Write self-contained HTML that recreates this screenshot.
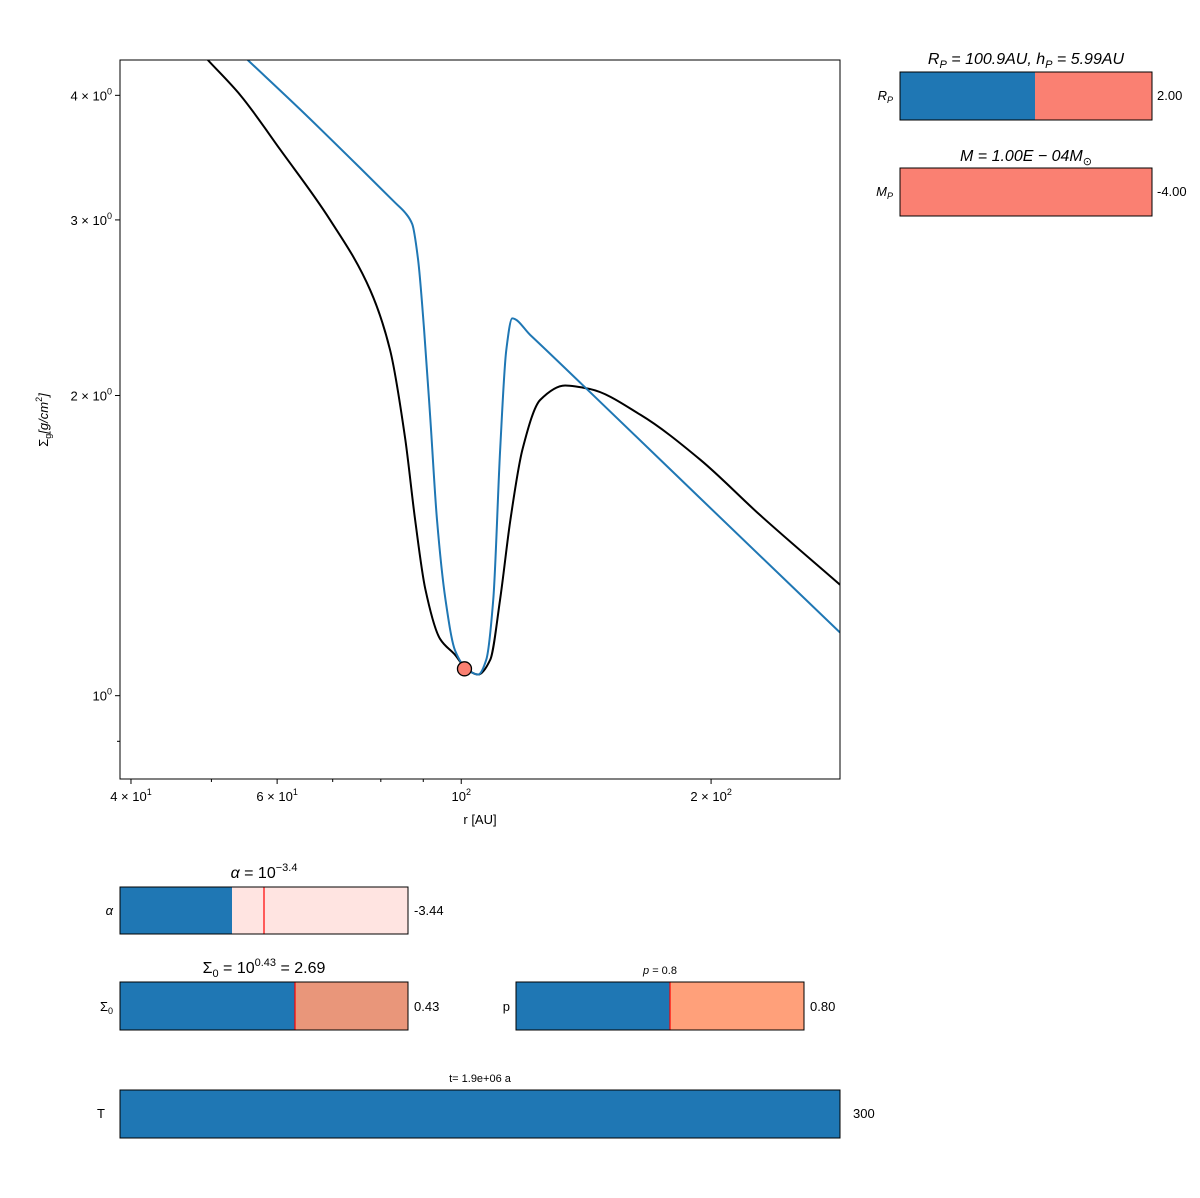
<!DOCTYPE html>
<html><head><meta charset="utf-8">
<style>
body{margin:0;background:#fff;}
svg{display:block;font-family:"Liberation Sans","DejaVu Sans",sans-serif;}
</style></head>
<body>
<svg id="s" width="1200" height="1198" viewBox="0 0 1200 1198" xmlns="http://www.w3.org/2000/svg">
<g id="plot"></g>

<g>
<text x="1026" y="64" font-size="16" text-anchor="middle" font-style="italic">R<tspan font-size="11" dy="4">P</tspan><tspan dy="-4"> = 100.9AU, h</tspan><tspan font-size="11" dy="4">P</tspan><tspan dy="-4"> = 5.99AU</tspan></text>
<rect x="900" y="72" width="252" height="48" fill="#fa8072"/>
<rect x="900" y="72" width="135" height="48" fill="#1f77b4"/>
<rect x="900" y="72" width="252" height="48" fill="none" stroke="#000"/>
<text x="893" y="100" font-size="13" text-anchor="end" font-style="italic">R<tspan font-size="9" dy="3">P</tspan></text>
<text x="1157" y="100" font-size="13">2.00</text>
</g>
<g>
<text x="1026" y="161" font-size="16" text-anchor="middle" font-style="italic">M = 1.00E − 04M<tspan font-size="11" dy="4">⊙</tspan></text>
<rect x="900" y="168" width="252" height="48" fill="#fa8072" stroke="#000"/>
<text x="893" y="196" font-size="13" text-anchor="end" font-style="italic">M<tspan font-size="9" dy="3">P</tspan></text>
<text x="1157" y="196" font-size="13">-4.00</text>
</g>
<g>
<text x="264" y="878" font-size="16" text-anchor="middle"><tspan font-style="italic">α</tspan> = 10<tspan font-size="11" dy="-7">−3.4</tspan></text>
<rect x="120" y="887" width="288" height="47" fill="#ffe4e1"/>
<rect x="120" y="887" width="112" height="47" fill="#1f77b4"/>
<line x1="264" y1="887" x2="264" y2="934" stroke="#ff0000" stroke-width="1.2"/>
<rect x="120" y="887" width="288" height="47" fill="none" stroke="#000"/>
<text x="113" y="915" font-size="13" text-anchor="end" font-style="italic">α</text>
<text x="414" y="915" font-size="13">-3.44</text>
</g>
<g>
<text x="264" y="973" font-size="16" text-anchor="middle">Σ<tspan font-size="11" dy="4">0</tspan><tspan dy="-4"> = 10</tspan><tspan font-size="11" dy="-7">0.43</tspan><tspan dy="7"> = 2.69</tspan></text>
<rect x="120" y="982" width="288" height="48" fill="#e9967a"/>
<rect x="120" y="982" width="175" height="48" fill="#1f77b4"/>
<line x1="295" y1="982" x2="295" y2="1030" stroke="#ff0000" stroke-width="1.2"/>
<rect x="120" y="982" width="288" height="48" fill="none" stroke="#000"/>
<text x="113" y="1011" font-size="13" text-anchor="end">Σ<tspan font-size="9" dy="3">0</tspan></text>
<text x="414" y="1011" font-size="13">0.43</text>
</g>
<g>
<text x="660" y="974" font-size="11" text-anchor="middle"><tspan font-style="italic">p</tspan> = 0.8</text>
<rect x="516" y="982" width="288" height="48" fill="#ffa07a"/>
<rect x="516" y="982" width="154" height="48" fill="#1f77b4"/>
<line x1="670" y1="982" x2="670" y2="1030" stroke="#ff0000" stroke-width="1.2"/>
<rect x="516" y="982" width="288" height="48" fill="none" stroke="#000"/>
<text x="510" y="1011" font-size="13" text-anchor="end">p</text>
<text x="810" y="1011" font-size="13">0.80</text>
</g>
<g>
<text x="480" y="1082" font-size="11" text-anchor="middle">t= 1.9e+06 a</text>
<rect x="120" y="1090" width="720" height="48" fill="#1f77b4" stroke="#000"/>
<text x="105" y="1118" font-size="13" text-anchor="end">T</text>
<text x="853" y="1118" font-size="13">300</text>
</g>
</svg>
<script>
const blueR=[55.3,64.0,75.6,83.3,85.6,87.3,88.7,90.2,91.8,93.5,95.7,98.3,102,104.8,107.2,109.3,111.4,113.3,115.2,121.1,147.1,194,286];
const blueS=[4.34,3.87,3.38,3.12,3.05,2.97,2.74,2.33,1.89,1.50,1.25,1.11,1.06,1.05,1.087,1.25,1.765,2.22,2.39,2.30,1.97,1.578,1.157];
const blackR=[49.5,54.2,60.5,69.5,77.7,82.1,85.6,88.0,90.5,94.3,98.3,101.1,104.8,108.4,111.4,114.6,118.5,124.5,133.4,143,164.4,194,229,286];
const blackS=[4.34,4.0,3.53,3.0,2.55,2.22,1.81,1.50,1.28,1.14,1.099,1.067,1.05,1.087,1.25,1.50,1.765,1.98,2.047,2.03,1.913,1.725,1.518,1.292];
const planetR=[100.9];
const planetS=[1.064];
const xTicks=[40,60,100,200];
const xTickLabels=[["4","1"],["6","1"],["10","2"],["2","2"]];
const yTicks=[1,2,3,4];
const yTickLabels=["1","2","3","4"];
const xMinor=[50,70,80,90,300];
const yMinor=[0.9];

const NS="http://www.w3.org/2000/svg";
const X0=120,X1=840,Y0=60,Y1=779;
const xmin=38.8,xmax=286,ymin=0.825,ymax=4.34;
function sx(v){return X0+(Math.log10(v)-Math.log10(xmin))/(Math.log10(xmax)-Math.log10(xmin))*(X1-X0);}
function sy(v){return Y1-(Math.log10(v)-Math.log10(ymin))/(Math.log10(ymax)-Math.log10(ymin))*(Y1-Y0);}
const g=document.getElementById('plot');
function mk(t,a){const e=document.createElementNS(NS,t);for(const k in a)e.setAttribute(k,a[k]);g.appendChild(e);return e;}
const clip=mk('clipPath',{id:'cp'});
const cr=document.createElementNS(NS,'rect');cr.setAttribute('x',X0);cr.setAttribute('y',Y0);cr.setAttribute('width',X1-X0);cr.setAttribute('height',Y1-Y0);clip.appendChild(cr);
function smoothPath(R,S){
  const x=R.map(sx),y=S.map(sy),n=x.length;
  const d=[],m=new Array(n).fill(0);
  for(let i=0;i<n-1;i++)d.push((y[i+1]-y[i])/(x[i+1]-x[i]));
  m[0]=d[0];m[n-1]=d[n-2];
  for(let i=1;i<n-1;i++){
    if(d[i-1]*d[i]<=0)m[i]=0;
    else{const w1=2*(x[i+1]-x[i])+(x[i]-x[i-1]),w2=(x[i+1]-x[i])+2*(x[i]-x[i-1]);
      m[i]=(w1+w2)/(w1/d[i-1]+w2/d[i]);}
  }
  let p='M'+x[0]+','+y[0];
  for(let i=0;i<n-1;i++){
    const h=x[i+1]-x[i];
    p+=' C'+(x[i]+h/3)+','+(y[i]+m[i]*h/3)+' '+(x[i+1]-h/3)+','+(y[i+1]-m[i+1]*h/3)+' '+x[i+1]+','+y[i+1];
  }
  return p;
}
const bl=mk('path',{d:smoothPath(blackR,blackS),fill:'none',stroke:'#000','stroke-width':2,'clip-path':'url(#cp)'});


const bu=mk('path',{d:smoothPath(blueR,blueS),fill:'none',stroke:'#1f77b4','stroke-width':2,'clip-path':'url(#cp)'});


planetR.forEach((r,i)=>{
  const c=mk('circle',{cx:sx(r),cy:sy(planetS[i]),r:7,fill:'#fa8072',stroke:'#000','stroke-width':1.3});
  
  
});
const fr=mk('rect',{x:X0,y:Y0,width:X1-X0,height:Y1-Y0,fill:'none',stroke:'#000','stroke-width':1});


xTicks.forEach((v,i)=>{
  const x=sx(v);
  const l=mk('line',{x1:x,y1:Y1,x2:x,y2:Y1+5,stroke:'#000'});
  
  
  const t=mk('text',{x:x,y:Y1+22,'font-size':13,'text-anchor':'middle'});
  
  
  const lb=xTickLabels[i];
  t.innerHTML=(lb[0]==='10'?'10':lb[0]+' × 10')+'<tspan font-size="9" dy="-6">'+lb[1]+'</tspan>';
});
xMinor.forEach(v=>{if(v>xmax)return;const x=sx(v);
  const l=mk('line',{x1:x,y1:Y1,x2:x,y2:Y1+3,stroke:'#000'});
  
  });
yTicks.forEach((v,i)=>{
  const y=sy(v);
  const l=mk('line',{x1:X0-5,y1:y,x2:X0,y2:y,stroke:'#000'});
  
  
  const t=mk('text',{x:X0-8,y:y+5,'font-size':13,'text-anchor':'end'});
  
  
  t.innerHTML=(yTickLabels[i]==='1'?'10':yTickLabels[i]+' × 10')+'<tspan font-size="9" dy="-6">0</tspan>';
});
yMinor.forEach(v=>{const y=sy(v);
  const l=mk('line',{x1:X0-3,y1:y,x2:X0,y2:y,stroke:'#000'});
  
  });
const xt=mk('text',{x:480,y:824,'font-size':13,'text-anchor':'middle'});


xt.textContent='r [AU]';
const yt=mk('text',{x:0,y:0,'font-size':13,'text-anchor':'middle',transform:'translate(48,420) rotate(-90)'});


yt.innerHTML='Σ<tspan font-size="9" dy="3">g</tspan><tspan dy="-3" font-style="italic">[g/cm</tspan><tspan font-size="9" dy="-6">2</tspan><tspan dy="6" font-style="italic">]</tspan>';
</script>
</body></html>
